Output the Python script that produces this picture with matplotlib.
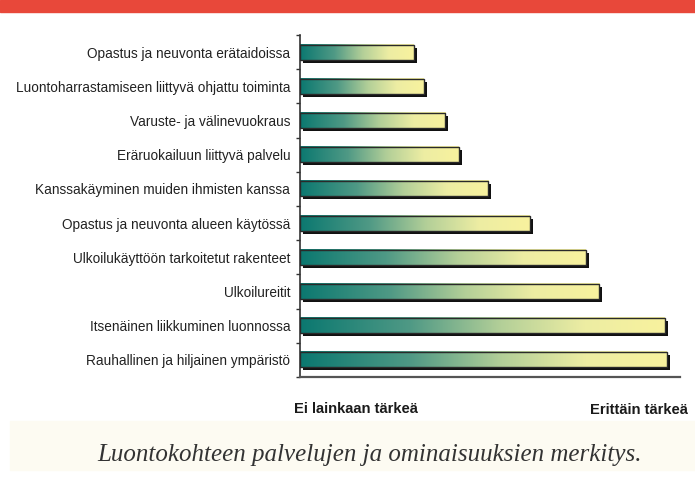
import numpy as np
import matplotlib
matplotlib.use("Agg")
import matplotlib.pyplot as plt
import matplotlib.transforms as mtransforms
from matplotlib.colors import LinearSegmentedColormap
from matplotlib.patches import Rectangle

# data, top row first
labels = [
    "Opastus ja neuvonta erätaidoissa",
    "Luontoharrastamiseen liittyvä ohjattu toiminta",
    "Varuste- ja välinevuokraus",
    "Eräruokailuun liittyvä palvelu",
    "Kanssakäyminen muiden ihmisten kanssa",
    "Opastus ja neuvonta alueen käytössä",
    "Ulkoilukäyttöön tarkoitetut rakenteet",
    "Ulkoilureitit",
    "Itsenäinen liikkuminen luonnossa",
    "Rauhallinen ja hiljainen ympäristö",
]
values = [2.20, 2.30, 2.53, 2.67, 2.98, 3.42, 4.01, 4.15, 4.84, 4.86]
scale_low = "Ei lainkaan tärkeä"
scale_high = "Erittäin tärkeä"
caption = "Luontokohteen palvelujen ja ominaisuuksien merkitys."

W, H = 695, 479
fig = plt.figure(figsize=(W / 100, H / 100), dpi=100)
fig.patch.set_facecolor("white")

# red banner and cream footer
fig.patches.append(Rectangle((0, 1 - 12 / H), 1, 12 / H, transform=fig.transFigure,
                             color="#E8483A", zorder=0))
fig.patches.append(Rectangle((10 / W, 1 - 470 / H), 1, 49 / H, transform=fig.transFigure,
                             color="#FDFBF2", zorder=0))

ax = fig.add_axes([300 / W, 1 - 377 / H, 380 / W, 342 / H])
ax.set_facecolor("none")

cmap = LinearSegmentedColormap.from_list(
    "bar", [(0, "#0B7870"), (0.3, "#4F9985"), (0.55, "#B3CF98"),
            (0.78, "#EDEDA3"), (1, "#F8F29E")])
grad = np.linspace(0, 1, 256).reshape(1, -1)

x0 = 1
h = 0.44
shadow_tr = mtransforms.offset_copy(ax.transData, fig=fig, x=3, y=-3, units="dots")
for i, v in enumerate(values):
    ax.add_patch(Rectangle((x0, i - h / 2), v - x0, h, transform=shadow_tr,
                           facecolor="#111111", edgecolor="none", zorder=1))
    ax.imshow(grad, extent=[x0, v, i + h / 2, i - h / 2], aspect="auto",
              cmap=cmap, interpolation="bicubic", zorder=2)
    ax.add_patch(Rectangle((x0, i - h / 2), v - x0, h, fill=False,
                           edgecolor="#2A2A2A", linewidth=1.0, zorder=3))

ax.set_xlim(x0, 5)
ax.set_ylim(len(values) - 0.5, -0.5)
ax.set_aspect("auto")

ax.set_yticks(range(len(labels)))
ax.set_yticklabels(labels, fontsize=9.8, color="#222222", family="Liberation Sans")
ax.tick_params(axis="y", which="major", length=0, pad=7)
ax.set_yticks(np.arange(-0.5, len(values), 1.0), minor=True)
ax.tick_params(axis="y", which="minor", length=3, width=1, color="#333333", direction="out")
ax.set_xticks([])

for s in ["top", "right"]:
    ax.spines[s].set_visible(False)
ax.spines["left"].set_color("#333333")
ax.spines["left"].set_linewidth(1.2)
ax.spines["bottom"].set_color("#555555")
ax.spines["bottom"].set_linewidth(1.6)

fig.text(356 / W, 1 - 409 / H, scale_low, ha="center", va="center", fontsize=10.6,
         fontweight="bold", color="#1a1a1a", family="Liberation Sans")
fig.text(590 / W, 1 - 410 / H, scale_high, ha="left", va="center", fontsize=10.6,
         fontweight="bold", color="#1a1a1a", family="Liberation Sans")
fig.text(370 / W, 1 - 455 / H, caption, ha="center", va="center", fontsize=18,
         style="italic", color="#333333", family="Liberation Serif")

fig.savefig("out.png", dpi=100)
